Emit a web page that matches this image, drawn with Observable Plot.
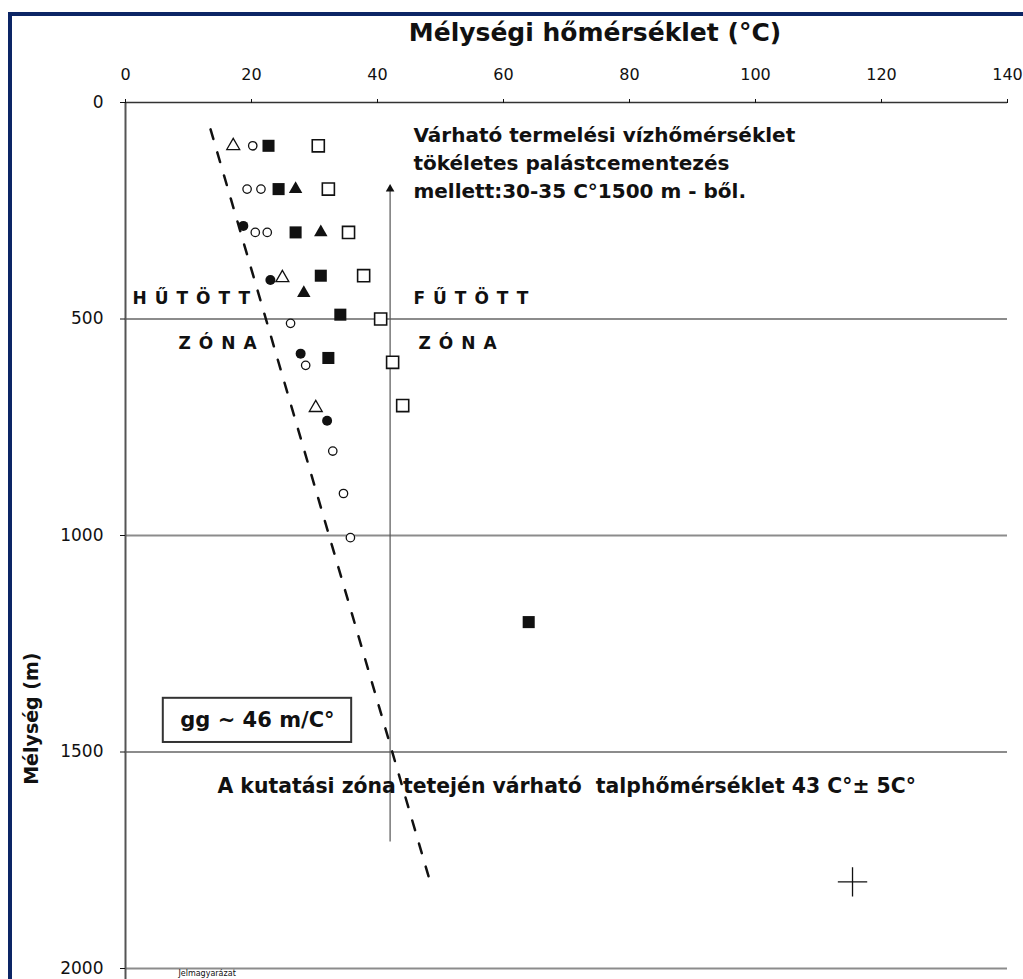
<!DOCTYPE html>
<html>
<head>
<meta charset="utf-8">
<script src="https://cdn.jsdelivr.net/npm/d3@7"></script>
<script src="https://cdn.jsdelivr.net/npm/@observablehq/plot@0.6"></script>
<style>
  body { margin: 0; background: #fff; }
  #wrap { position: relative; width: 1023px; height: 979px; overflow: hidden; background: #fff; }
  #wrap svg { position: absolute; left: 0; top: 0; }
  .bt { position: absolute; left: 8px; top: 12px; width: 1100px; height: 4px; background: #0c2565; }
  .bl { position: absolute; left: 8px; top: 12px; width: 4px; height: 1000px; background: #0c2565; }
  #title { position: absolute; top: 18px; left: 0; width: 1190px; text-align: center;
           font: bold 25px "DejaVu Sans", sans-serif; line-height: 30px; color: #111; }
</style>
</head>
<body>
<div id="wrap">
  <div class="bt"></div>
  <div class="bl"></div>
  <div id="title">Mélységi hőmérséklet (°C)</div>
</div>
<script>
// ---- data (temperature °C, depth m) ----
const xTicks = [0, 20, 40, 60, 80, 100, 120, 140];
const yTicks = [0, 500, 1000, 1500, 2000];
const gridDepths = [500, 1000, 1500, 2000];

const openSquares = [
  {temp: 30.6, depth: 100}, {temp: 32.2, depth: 200}, {temp: 35.4, depth: 300},
  {temp: 37.8, depth: 400}, {temp: 40.5, depth: 500}, {temp: 42.4, depth: 600},
  {temp: 44.0, depth: 700}
];
const filledSquares = [
  {temp: 22.7, depth: 100}, {temp: 24.3, depth: 200}, {temp: 27.0, depth: 300},
  {temp: 31.0, depth: 400}, {temp: 34.1, depth: 490}, {temp: 32.2, depth: 590},
  {temp: 64.0, depth: 1200}
];
const filledTriangles = [
  {temp: 27.0, depth: 200}, {temp: 31.0, depth: 300}, {temp: 28.3, depth: 440}
];
const filledCircles = [
  {temp: 18.7, depth: 285}, {temp: 23.0, depth: 410}, {temp: 27.8, depth: 580},
  {temp: 32.0, depth: 735}
];
const openTriangles = [
  {temp: 17.1, depth: 100}, {temp: 24.9, depth: 405}, {temp: 30.2, depth: 705}
];
const openCircles = [
  {temp: 20.2, depth: 100}, {temp: 19.3, depth: 200}, {temp: 21.5, depth: 200},
  {temp: 20.6, depth: 300}, {temp: 22.5, depth: 300}, {temp: 26.2, depth: 510},
  {temp: 28.6, depth: 607}, {temp: 32.9, depth: 805}, {temp: 34.6, depth: 903},
  {temp: 35.7, depth: 1005}
];
const plusPoints = [{temp: 115.4, depth: 1800}];

// geothermal gradient trend (gg ~ 46 m/°C)
const gradientLine = [{temp: 13.5, depth: 62}, {temp: 48.1, depth: 1787}];
// expected production water temperature line
const productionLine = [{temp: 42, top: 200, bottom: 1708}];

// ---- texts ----
const noteText = "Várható termelési vízhőmérséklet\ntökéletes palástcementezés\nmellett:30-35 C°1500 m - ből.";
const bottomText = "A kutatási zóna tetején várható  talphőmérséklet 43 C°± 5C°";
const ggText = "gg ~ 46 m/C°";
const yLabel = "Mélység (m)";
const legendTitle = "Jelmagyarázat";

const black = "#111";
const chart = Plot.plot({
  width: 1023, height: 979,
  marginLeft: 125, marginRight: 16, marginTop: 102, marginBottom: 11,
  x: {domain: [0, 140]},
  y: {domain: [0, 2000], reverse: true},
  style: {fontFamily: "DejaVu Sans, sans-serif", background: "transparent", overflow: "visible", color: black},
  marks: [
    Plot.ruleY(gridDepths, {x1: 0, x2: 140, stroke: "#8c8c8c", strokeWidth: 2}),
    Plot.ruleX([0], {y1: 0, y2: 2100, stroke: "#555", strokeWidth: 2}),
    Plot.ruleY([0], {x1: 0, x2: 140, stroke: "#333", strokeWidth: 1.5}),
    Plot.axisX({anchor: "top", ticks: xTicks, tickSize: 4, tickPadding: 19, fontSize: 16, label: null, tickFormat: d => String(d)}),
    Plot.axisY({anchor: "left", ticks: yTicks, tickSize: 5, tickPadding: 17, fontSize: 17, label: null, tickFormat: d => String(d)}),

    // production temperature line with arrow head
    Plot.ruleX(productionLine, {x: "temp", y1: "top", y2: "bottom", stroke: "#555", strokeWidth: 1.2}),
    Plot.dot(productionLine, {x: "temp", y: "top", symbol: "triangle", r: 3.2, fill: black}),

    // gradient dashed line
    Plot.line(gradientLine, {x: "temp", y: "depth", stroke: black, strokeWidth: 2.5, strokeDasharray: "10,14"}),

    // series
    Plot.dot(openCircles, {x: "temp", y: "depth", symbol: "circle", r: 4.2, fill: "white", stroke: black, strokeWidth: 1.3}),
    Plot.dot(openTriangles, {x: "temp", y: "depth", symbol: "triangle", r: 4.8, fill: "white", stroke: black, strokeWidth: 1.3}),
    Plot.dot(filledCircles, {x: "temp", y: "depth", symbol: "circle", r: 5, fill: black}),
    Plot.dot(filledTriangles, {x: "temp", y: "depth", symbol: "triangle", r: 5, fill: black}),
    Plot.dot(filledSquares, {x: "temp", y: "depth", symbol: "square", r: 6.8, fill: black}),
    Plot.dot(openSquares, {x: "temp", y: "depth", symbol: "square", r: 6.8, fill: "white", stroke: black, strokeWidth: 1.6}),
    Plot.dot(plusPoints, {x: "temp", y: "depth", symbol: "plus", r: 9.5, stroke: black, strokeWidth: 1.3}),

    // annotations
    Plot.text([noteText], {x: 45.7, y: 136, text: d => d, textAnchor: "start", lineAnchor: "middle", lineHeight: 1.4, fontSize: 20, fontWeight: "bold", fill: black}),
    Plot.text(["HŰTÖTT"], {x: 1.1, y: 453, text: d => d, textAnchor: "start", fontSize: 17, fontWeight: "bold", fill: black}),
    Plot.text(["ZÓNA"], {x: 8.4, y: 557, text: d => d, textAnchor: "start", fontSize: 17, fontWeight: "bold", fill: black}),
    Plot.text(["FŰTÖTT"], {x: 45.7, y: 453, text: d => d, textAnchor: "start", fontSize: 17, fontWeight: "bold", fill: black}),
    Plot.text(["ZÓNA"], {x: 46.5, y: 557, text: d => d, textAnchor: "start", fontSize: 17, fontWeight: "bold", fill: black}),
    Plot.rect([ggText], {x1: 6.0, x2: 35.9, y1: 1376, y2: 1478, fill: "white", stroke: "#333", strokeWidth: 2}),
    Plot.text([ggText], {x: 8.7, y: 1427, text: d => d, textAnchor: "start", fontSize: 21, fontWeight: "bold", fill: black}),
    Plot.text([bottomText], {x: 14.6, y: 1580, text: d => d, textAnchor: "start", fontSize: 20.4, fontWeight: "bold", fill: black}),
    Plot.text([yLabel], {x: -14.8, y: 1423, text: d => d, rotate: -90, fontSize: 19, fontWeight: "bold", fill: black}),
    Plot.text([legendTitle], {x: 8.4, y: 2005, text: d => d, textAnchor: "start", lineAnchor: "top", fontSize: 8, fill: black})
  ]
});

d3.select(chart).selectAll("text")
  .filter(function() { return /^(HŰTÖTT|FŰTÖTT|ZÓNA)$/.test(this.textContent); })
  .style("letter-spacing", "8px");

document.getElementById("wrap").insertBefore(chart, document.getElementById("title"));
</script>
</body>
</html>
